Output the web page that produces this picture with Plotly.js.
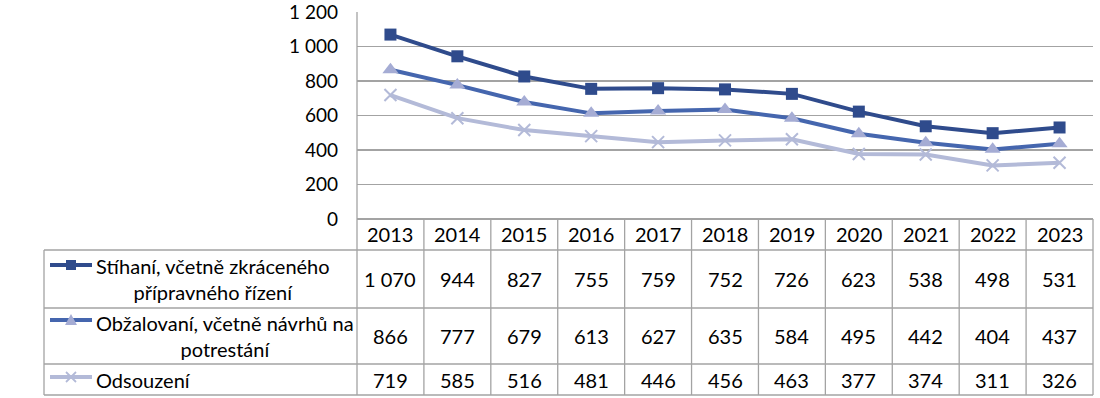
<!DOCTYPE html>
<html>
<head>
<meta charset="utf-8">
<script src="https://cdn.plot.ly/plotly-3.0.1.min.js"></script>
<style>html,body{margin:0;padding:0;background:#fff;}#chart{width:1100px;height:398px;}</style>
</head>
<body>
<div id="chart"></div>
<script>
// ---- data ----
const years = ['2013','2014','2015','2016','2017','2018','2019','2020','2021','2022','2023'];
const stihani = [1070, 944, 827, 755, 759, 752, 726, 623, 538, 498, 531];
const obzalovani = [866, 777, 679, 613, 627, 635, 584, 495, 442, 404, 437];
const odsouzeni = [719, 585, 516, 481, 446, 456, 463, 377, 374, 311, 326];
const seriesNames = ['Stíhaní, včetně zkráceného<br>přípravného řízení', 'Obžalovaní, včetně návrhů na<br>potrestání', 'Odsouzení'];
const yTicks = [0, 200, 400, 600, 800, 1000, 1200];

// ---- style ----
const FONT = 'Lato, "Open Sans", "DejaVu Sans", sans-serif';
const W = 1100, H = 398;
const L = 357, R = 1093, T = 12, B = 219; // plot area pixels
const GRID = '#a3a3a3';
const styles = [
  {line: '#2f4b8c', marker: '#2f4b8c', symbol: 'square', size: 12, lw: 0},
  {line: '#4566ae', marker: '#a5acd4', symbol: 'triangle-up', size: 14, lw: 0},
  {line: '#b3bad8', marker: '#b3bad8', symbol: 'x-thin', size: 12, lw: 2}
];
const allSeries = [stihani, obzalovani, odsouzeni];

// table geometry (pixels)
const headerTop = B, headerBot = 250;
const rowBounds = [[250, 308], [308, 364], [364, 395]];
const tableLeft = 44;

const py = p => (B - p) / (B - T);      // pixel y -> paper y
const px = p => (p - L) / (R - L);      // pixel x -> paper x
const fmt = v => { const s = String(v); return s.length > 3 ? s.slice(0, s.length - 3) + ' ' + s.slice(-3) : s; };

const traces = allSeries.map((vals, i) => ({
  x: years, y: vals, type: 'scatter', mode: 'lines+markers',
  line: {color: styles[i].line, width: 4},
  marker: {color: styles[i].marker, symbol: styles[i].symbol, size: styles[i].size,
           line: {color: styles[i].marker, width: styles[i].lw}},
  showlegend: false, hoverinfo: 'skip'
}));

const shapes = [];
const lineStyle = {color: GRID, width: 1.3};
// left axis line continuing into table
shapes.push({type: 'line', xref: 'paper', yref: 'paper', x0: 0, x1: 0, y0: 1, y1: py(rowBounds[2][1]), line: lineStyle});
// column dividers
const n = years.length;
for (let k = 1; k <= n; k++) {
  shapes.push({type: 'line', xref: 'paper', yref: 'paper', x0: k / n, x1: k / n, y0: py(headerTop), y1: py(rowBounds[2][1]), line: lineStyle});
}
// header bottom + row lines
[headerBot, rowBounds[0][1], rowBounds[1][1], rowBounds[2][1]].forEach(p => {
  shapes.push({type: 'line', xref: 'paper', yref: 'paper', x0: px(tableLeft), x1: 1, y0: py(p), y1: py(p), line: lineStyle});
});
// table left border
shapes.push({type: 'line', xref: 'paper', yref: 'paper', x0: px(tableLeft), x1: px(tableLeft), y0: py(headerBot), y1: py(rowBounds[2][1]), line: lineStyle});

// legend keys (line + marker glyph drawn as shapes)
const keyY = [265, 320, 377];
const kx0 = 50, kx1 = 92, kc = 71;
keyY.forEach((ky, i) => {
  const st = styles[i];
  shapes.push({type: 'line', xref: 'paper', yref: 'paper', x0: px(kx0), x1: px(kx1), y0: py(ky), y1: py(ky),
    line: {color: st.line, width: 4}});
  if (i === 0) {
    shapes.push({type: 'rect', xref: 'paper', yref: 'paper', x0: px(kc - 5), x1: px(kc + 5), y0: py(ky + 5), y1: py(ky - 5),
      fillcolor: st.marker, line: {width: 0}});
  } else if (i === 1) {
    shapes.push({type: 'path', xref: 'paper', yref: 'paper',
      path: `M ${px(kc - 6)} ${py(ky + 5)} L ${px(kc + 6)} ${py(ky + 5)} L ${px(kc)} ${py(ky - 6)} Z`,
      fillcolor: st.marker, line: {width: 0}});
  } else {
    shapes.push({type: 'line', xref: 'paper', yref: 'paper', x0: px(kc - 5), x1: px(kc + 5), y0: py(ky - 5), y1: py(ky + 5), line: {color: st.marker, width: 1.8}});
    shapes.push({type: 'line', xref: 'paper', yref: 'paper', x0: px(kc - 5), x1: px(kc + 5), y0: py(ky + 5), y1: py(ky - 5), line: {color: st.marker, width: 1.8}});
  }
});

const annotations = [];
const tfont = {family: FONT, size: 20, color: '#000'};
years.forEach((yr, j) => {
  annotations.push({x: (j + 0.5) / n, xref: 'paper', y: py((headerTop + headerBot) / 2), yref: 'paper', text: yr, showarrow: false,
    font: tfont, xanchor: 'center', yanchor: 'middle'});
});
allSeries.forEach((vals, i) => {
  const yc = py((rowBounds[i][0] + rowBounds[i][1]) / 2);
  vals.forEach((v, j) => {
    annotations.push({x: (j + 0.5) / n, xref: 'paper', y: yc, yref: 'paper', text: fmt(v), showarrow: false,
      font: tfont, xanchor: 'center', yanchor: 'middle'});
  });
  annotations.push({x: px(94), xref: 'paper', y: yc, yref: 'paper', text: seriesNames[i], showarrow: false, align: 'center',
    font: tfont, xanchor: 'left', yanchor: 'middle'});
});

const layout = {
  width: W, height: H,
  margin: {l: L, r: W - R, t: T, b: H - B, pad: 0},
  paper_bgcolor: '#fff', plot_bgcolor: '#fff',
  separators: ', ',
  font: {family: FONT, size: 20, color: '#000'},
  xaxis: {type: 'category', categoryorder: 'array', categoryarray: years, range: [-0.5, n - 0.5],
          showticklabels: false, showgrid: false, zeroline: false, showline: false, ticks: '', fixedrange: true},
  yaxis: {range: [0, 1201], tickvals: yTicks, tickformat: ',d', showgrid: true, gridcolor: GRID, gridwidth: 1.3,
          zeroline: true, zerolinecolor: GRID, zerolinewidth: 1.3, showline: false, ticks: '', ticklabelstandoff: 18,
          ticklabeloverflow: 'allow', automargin: false,
          tickfont: {family: FONT, size: 19, color: '#000'}, fixedrange: true},
  shapes: shapes, annotations: annotations, showlegend: false
};

try {
  Plotly.newPlot('chart', traces, layout, {displayModeBar: false, staticPlot: true}).catch(e => {
    document.body.insertAdjacentHTML('beforeend', '<pre>' + e + '</pre>');
  });
} catch (e) {
  document.body.insertAdjacentHTML('beforeend', '<pre>' + e + '</pre>');
}
</script>
</body>
</html>
